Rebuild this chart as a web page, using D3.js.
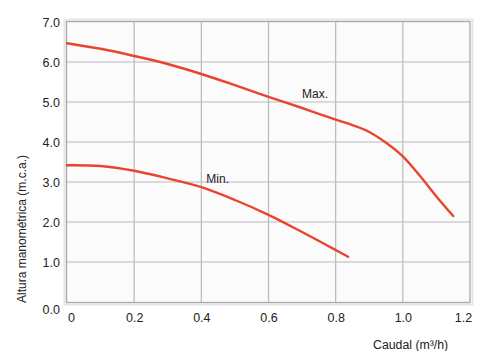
<!DOCTYPE html>
<html>
<head>
<meta charset="utf-8">
<script src="https://cdn.jsdelivr.net/npm/d3@7"></script>
<style>
  html, body { margin: 0; padding: 0; background: #fff; }
  svg { display: block; font-family: "Liberation Sans", Arial, sans-serif; }
</style>
</head>
<body>
<svg id="chart" width="487" height="351"></svg>
<script>
const xTicks = [0, 0.2, 0.4, 0.6, 0.8, 1.0, 1.2];
const xTickLabels = ["0", "0.2", "0.4", "0.6", "0.8", "1.0", "1.2"];
const yTicks = [0, 1, 2, 3, 4, 5, 6, 7];
const yTickLabels = ["0.0", "1.0", "2.0", "3.0", "4.0", "5.0", "6.0", "7.0"];

const maxFlow = [0, 0.1, 0.2, 0.3, 0.4, 0.5, 0.6, 0.7, 0.8, 0.85, 0.9, 0.95, 1.0, 1.05, 1.1, 1.15];
const maxHead = [6.47, 6.33, 6.15, 5.95, 5.70, 5.42, 5.13, 4.85, 4.56, 4.42, 4.25, 3.98, 3.64, 3.16, 2.64, 2.15];
const minFlow = [0, 0.1, 0.2, 0.3, 0.4, 0.5, 0.6, 0.7, 0.8, 0.837];
const minHead = [3.42, 3.40, 3.28, 3.09, 2.87, 2.55, 2.18, 1.75, 1.30, 1.13];

const svg = d3.select("#chart");
const x = d3.scaleLinear().domain([0, 1.2]).range([67, 470]);
const y = d3.scaleLinear().domain([0, 7]).range([302, 22]);

// plot background + outer soft border
svg.append("rect").attr("x", 64.5).attr("y", 19.5).attr("width", 408).attr("height", 285)
  .attr("fill", "none").attr("stroke", "#e6e6e6").attr("stroke-width", 2);
svg.append("rect").attr("x", 66).attr("y", 21).attr("width", 405).attr("height", 282)
  .attr("fill", "#fbfbfb");

// grid
const grid = svg.append("g");
grid.selectAll("line.v").data(xTicks.slice(1, -1)).join("line")
  .attr("x1", d => x(d)).attr("x2", d => x(d)).attr("y1", y(7)).attr("y2", y(0))
  .attr("stroke", "#b9b9bd").attr("stroke-width", 1.2);
grid.selectAll("line.h").data(yTicks.slice(1, -1)).join("line")
  .attr("x1", x(0)).attr("x2", x(1.2)).attr("y1", d => y(d)).attr("y2", d => y(d))
  .attr("stroke", "#b9b9bd").attr("stroke-width", 1.2);

// border
svg.append("rect").attr("x", 66.5).attr("y", 21.5).attr("width", 403.5).attr("height", 281)
  .attr("fill", "none").attr("stroke", "#a9a9ad").attr("stroke-width", 1.3);

// axes
const xAxis = d3.axisBottom(x).tickValues(xTicks).tickSize(0).tickPadding(0)
  .tickFormat((d, i) => xTickLabels[i]);
const gx = svg.append("g").attr("transform", "translate(0,313)").call(xAxis);
gx.select(".domain").remove();
gx.selectAll("text").attr("font-size", 12.5).attr("fill", "#222")
  .attr("font-family", "Liberation Sans, Arial, sans-serif")
  .attr("dx", (d, i) => i === 0 ? 4 : (i === xTicks.length - 1 ? -7 : 0));

const yAxis = d3.axisLeft(y).tickValues(yTicks).tickSize(0).tickPadding(6)
  .tickFormat((d, i) => yTickLabels[i]);
const gy = svg.append("g").attr("transform", "translate(66,0)").call(yAxis);
gy.select(".domain").remove();
gy.selectAll("text").attr("font-size", 12.5).attr("fill", "#222")
  .attr("font-family", "Liberation Sans, Arial, sans-serif")
  .attr("dy", (d) => d === 0 ? "0.9em" : "0.36em");

// axis titles
svg.append("text").attr("transform", "translate(26,229) rotate(-90)")
  .attr("text-anchor", "middle").attr("font-size", 12).attr("fill", "#222")
  .text("Altura manométrica (m.c.a.)");
svg.append("text").attr("x", 373).attr("y", 348.5)
  .attr("font-size", 12.3).attr("fill", "#222")
  .text("Caudal (m³/h)");

// curves
const line = d3.line().x(d => x(d[0])).y(d => y(d[1])).curve(d3.curveCatmullRom.alpha(0.5));
svg.append("path").datum(maxFlow.map((f, i) => [f, maxHead[i]]))
  .attr("d", line).attr("fill", "none").attr("stroke", "#e9442d").attr("stroke-width", 2.4)
  .attr("stroke-linecap", "round");
svg.append("path").datum(minFlow.map((f, i) => [f, minHead[i]]))
  .attr("d", line).attr("fill", "none").attr("stroke", "#e9442d").attr("stroke-width", 2.4)
  .attr("stroke-linecap", "round");

// curve labels
svg.append("text").attr("x", x(0.7)).attr("y", y(5.1)).attr("font-size", 12).attr("fill", "#222").text("Max.");
svg.append("text").attr("x", x(0.415)).attr("y", y(2.98)).attr("font-size", 12).attr("fill", "#222").text("Min.");
</script>
</body>
</html>
